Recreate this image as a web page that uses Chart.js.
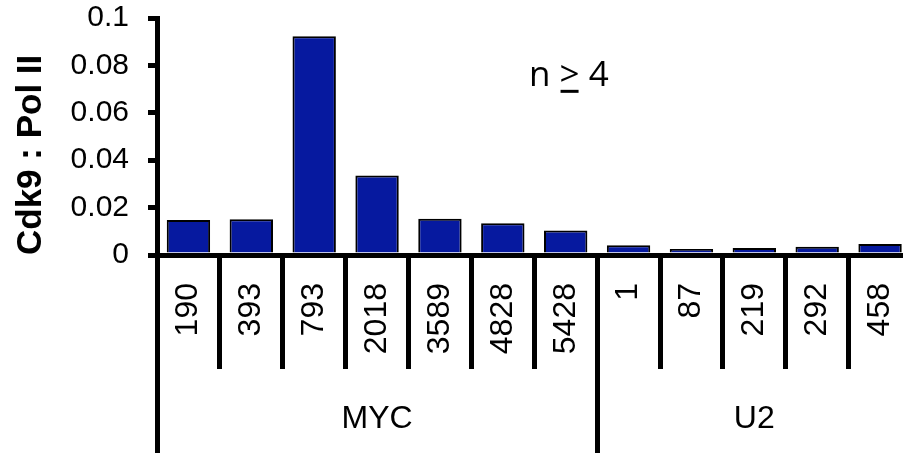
<!DOCTYPE html>
<html>
<head>
<meta charset="utf-8">
<script src="https://cdn.jsdelivr.net/npm/chart.js@4.4.1/dist/chart.umd.min.js"></script>
<style>
  html, body { margin: 0; padding: 0; background: #fff; overflow: hidden; }
</style>
</head>
<body>
<canvas id="cdk9Chart" width="915" height="453"></canvas>
<script>
// positions along each gene (bp)
const sites = ['190', '393', '793', '2018', '3589', '4828', '5428', '1', '87', '219', '292', '458'];
// Cdk9 : Pol II ratio
const ratios = [0.0148, 0.0151, 0.0923, 0.0335, 0.0153, 0.0134, 0.0103, 0.0041, 0.0025, 0.0030, 0.0035, 0.0046];
// genes and how many sites belong to each
const genes = ['MYC', 'U2'];
const geneSizes = [7, 5];
const yTicks = [0, 0.02, 0.04, 0.06, 0.08, 0.1];

const FONT = '"Liberation Sans", Arial, sans-serif';

// boundaries + centres for the gene axis
const geneBounds = [0];
const geneCentres = [];
geneSizes.forEach((n, i) => {
  geneCentres.push(geneBounds[i] + n / 2);
  geneBounds.push(geneBounds[i] + n);
});

// "n >= 4" note, written as > with a bar underneath
const notePlugin = {
  id: 'note',
  afterDraw(chart) {
    const ctx = chart.ctx;
    const x = chart.scales.x.getPixelForValue(6.05);
    const y = chart.scales.y.getPixelForValue(0.0756);
    ctx.save();
    ctx.font = '35px "Open Sans", sans-serif';
    ctx.fillStyle = '#000';
    ctx.textBaseline = 'middle';
    const a = 'n ', b = '>', c = ' 4';
    const wa = ctx.measureText(a).width;
    const wb = ctx.measureText(b).width;
    const wc = ctx.measureText(c).width;
    let left = x - (wa + wb + wc) / 2;
    ctx.fillText(a, left, y);
    ctx.fillText(b, left + wa, y);
    ctx.fillText(c, left + wa + wb, y);
    ctx.fillRect(left + wa + 1, y + 14, wb - 2, 3);
    ctx.restore();
  }
};

const ctx = document.getElementById('cdk9Chart').getContext('2d');
new Chart(ctx, {
  type: 'bar',
  data: {
    labels: sites,
    datasets: [{
      data: ratios,
      backgroundColor: '#06199f',
      borderColor: '#000',
      borderWidth: 2,
      borderSkipped: 'bottom',
      barPercentage: 0.69,
      categoryPercentage: 1.0
    }]
  },
  options: {
    responsive: false,
    animation: false,
    events: [],
    layout: { padding: { top: 0, right: 3.5, left: 0, bottom: 0 } },
    plugins: {
      legend: { display: false },
      tooltip: { enabled: false }
    },
    scales: {
      x: {
        type: 'category',
        position: 'bottom',
        weight: 0,
        offset: true,
        border: { display: true, color: '#000', width: 5 },
        grid: {
          offset: true,
          drawOnChartArea: false,
          drawTicks: true,
          tickLength: 114,
          color: '#000',
          lineWidth: 5
        },
        ticks: {
          autoSkip: false,
          minRotation: 90,
          maxRotation: 90,
          padding: -86,
          color: '#000',
          font: { family: FONT, size: 32 }
        },
        afterFit(scale) { scale.height = 114; }
      },
      x2: {
        type: 'linear',
        position: 'bottom',
        weight: 1,
        offset: false,
        min: 0,
        max: geneBounds[geneBounds.length - 1],
        border: { display: false },
        afterBuildTicks(scale) {
          const vals = geneBounds.concat(geneCentres).sort((p, q) => p - q);
          scale.ticks = vals.map(v => ({ value: v }));
        },
        grid: {
          offset: false,
          drawOnChartArea: false,
          drawTicks: true,
          tickLength: 84,
          lineWidth: 5,
          color(c) {
            return geneBounds.includes(c.tick && c.tick.value) ? '#000' : 'rgba(0,0,0,0)';
          }
        },
        ticks: {
          autoSkip: false,
          maxRotation: 0,
          minRotation: 0,
          padding: -53,
          color: '#000',
          font: { family: FONT, size: 32 },
          callback(v) {
            const i = geneCentres.indexOf(v);
            return i >= 0 ? genes[i] : '';
          }
        },
        afterFit(scale) { scale.height = 84; }
      },
      y: {
        min: 0,
        max: 0.1,
        border: { display: true, color: '#000', width: 5 },
        afterBuildTicks(scale) {
          scale.ticks = yTicks.map(v => ({ value: v }));
        },
        grid: {
          drawOnChartArea: false,
          drawTicks: true,
          tickLength: 9,
          color: '#000',
          lineWidth: 5
        },
        ticks: {
          padding: 19,
          color: '#000',
          font: { family: FONT, size: 30 },
          callback(v) { return v === 0 ? '0' : String(+v.toFixed(2)); }
        },
        title: {
          display: true,
          text: 'Cdk9 : Pol II',
          align: 'start',
          color: '#000',
          padding: { top: 10, bottom: 0 },
          font: { family: FONT, size: 35, weight: 'bold' }
        },
        afterFit(scale) {
          scale.width = 157;
          // tick padding would otherwise push the plot top down
          scale.paddingTop = 18;
          scale.paddingBottom = 0;
        }
      }
    }
  },
  plugins: [notePlugin]
});
</script>
</body>
</html>
